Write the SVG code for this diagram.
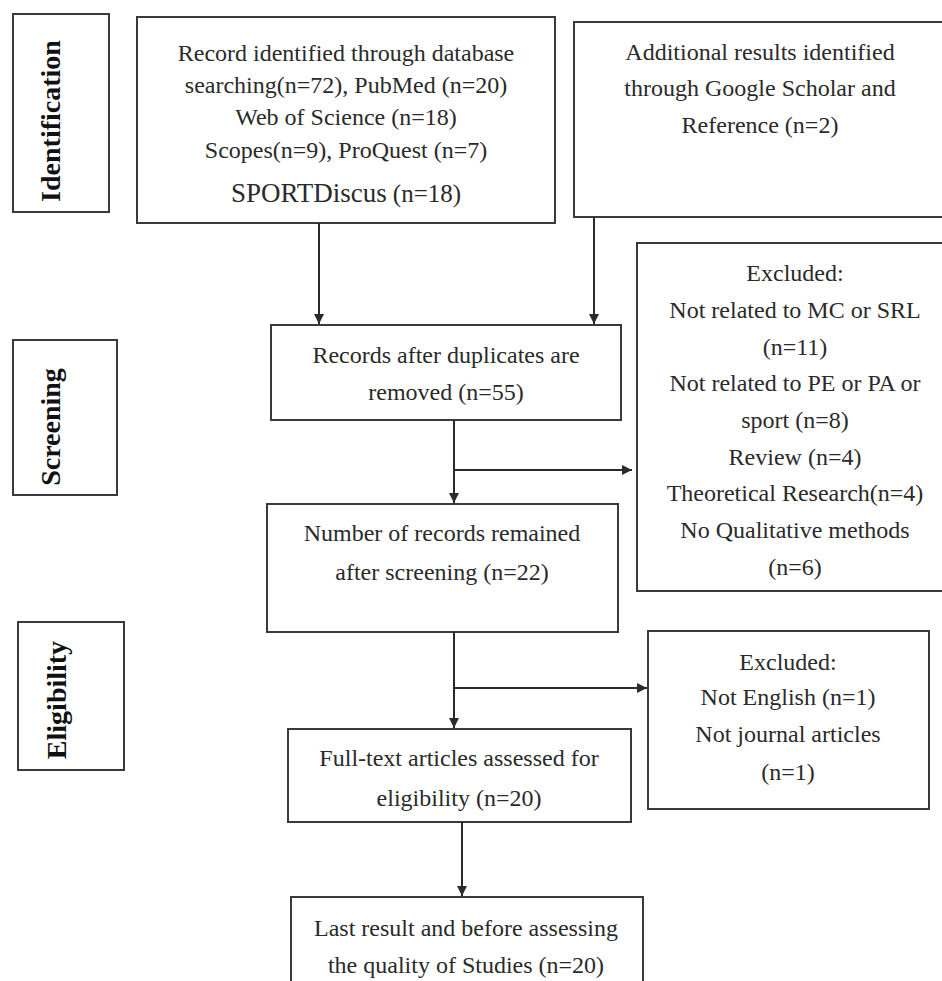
<svg xmlns="http://www.w3.org/2000/svg" width="942" height="981" viewBox="0 0 942 981">
<style>
.box{fill:#fff;stroke:#3a3a3a;stroke-width:2}
.t{font-family:"Liberation Serif","Times New Roman",serif;font-size:24px;fill:#2a2a2a;text-anchor:middle}
.side{font-family:"Liberation Serif","Times New Roman",serif;font-size:28px;font-weight:bold;fill:#111;text-anchor:middle}
.c{fill:none;stroke:#2a2a2a;stroke-width:2}
</style>
<defs>
<marker id="ah" viewBox="0 0 10 10" refX="10" refY="5" markerWidth="5" markerHeight="5" orient="auto" markerUnits="strokeWidth">
<path d="M0,0 L10,5 L0,10 z" fill="#2a2a2a"/>
</marker>
</defs>
<rect width="942" height="981" fill="#fff"/>

<g id="stage-identification">
<rect class="box" x="13" y="14" width="96" height="198"/>
<text class="side" transform="translate(60,121) rotate(-90)">Identification</text>
</g>
<g id="stage-screening">
<rect class="box" x="13" y="340" width="104" height="155"/>
<text class="side" transform="translate(60,427) rotate(-90)">Screening</text>
</g>
<g id="stage-eligibility">
<rect class="box" x="18" y="622" width="106" height="148"/>
<text class="side" transform="translate(66,700) rotate(-90)">Eligibility</text>
</g>

<g id="records-database">
<rect class="box" x="137" y="17" width="418" height="206"/>
<text class="t" x="346" y="61">Record identified through database</text>
<text class="t" x="346" y="93">searching(n=72), PubMed (n=20)</text>
<text class="t" x="346" y="125">Web of Science (n=18)</text>
<text class="t" x="346" y="158">Scopes(n=9), ProQuest (n=7)</text>
<text class="t" x="346" y="202"><tspan font-size="27">SPORTDiscus</tspan> <tspan font-size="25">(n=18)</tspan></text>
</g>

<g id="additional-results">
<rect class="box" x="574" y="22" width="380" height="195"/>
<text class="t" x="760" y="60">Additional results identified</text>
<text class="t" x="760" y="96">through Google Scholar and</text>
<text class="t" x="760" y="133">Reference (n=2)</text>
</g>

<g id="after-duplicates">
<rect class="box" x="271" y="325" width="350" height="95"/>
<text class="t" x="446" y="363">Records after duplicates are</text>
<text class="t" x="446" y="400">removed (n=55)</text>
</g>

<g id="excluded-screening">
<rect class="box" x="637" y="243" width="320" height="348"/>
<text class="t" x="795" y="281">Excluded:</text>
<text class="t" x="795" y="318">Not related to MC or SRL</text>
<text class="t" x="795" y="355">(n=11)</text>
<text class="t" x="795" y="391">Not related to PE or PA or</text>
<text class="t" x="795" y="428">sport (n=8)</text>
<text class="t" x="795" y="465">Review (n=4)</text>
<text class="t" x="795" y="501">Theoretical Research(n=4)</text>
<text class="t" x="795" y="538">No Qualitative methods</text>
<text class="t" x="795" y="575">(n=6)</text>
</g>

<g id="after-screening">
<rect class="box" x="267" y="504" width="351" height="128"/>
<text class="t" x="442" y="541">Number of records remained</text>
<text class="t" x="442" y="580">after screening (n=22)</text>
</g>

<g id="excluded-eligibility">
<rect class="box" x="648" y="631" width="281" height="178"/>
<text class="t" x="788" y="670">Excluded:</text>
<text class="t" x="788" y="705">Not English (n=1)</text>
<text class="t" x="788" y="742">Not journal articles</text>
<text class="t" x="788" y="780">(n=1)</text>
</g>

<g id="full-text">
<rect class="box" x="288" y="729" width="343" height="93"/>
<text class="t" x="459" y="766">Full-text articles assessed for</text>
<text class="t" x="459" y="806">eligibility (n=20)</text>
</g>

<g id="last-result">
<rect class="box" x="291" y="897" width="352" height="100"/>
<text class="t" x="466" y="936">Last result and before assessing</text>
<text class="t" x="466" y="973">the quality of Studies (n=20)</text>
</g>

<g id="connectors">
<path class="c" d="M319,223 V324" marker-end="url(#ah)"/>
<path class="c" d="M594,217 V324" marker-end="url(#ah)"/>
<path class="c" d="M454,420 V503" marker-end="url(#ah)"/>
<path class="c" d="M454,470 H632" marker-end="url(#ah)"/>
<path class="c" d="M454,632 V728" marker-end="url(#ah)"/>
<path class="c" d="M454,688 H647" marker-end="url(#ah)"/>
<path class="c" d="M462,822 V896" marker-end="url(#ah)"/>
</g>
</svg>
